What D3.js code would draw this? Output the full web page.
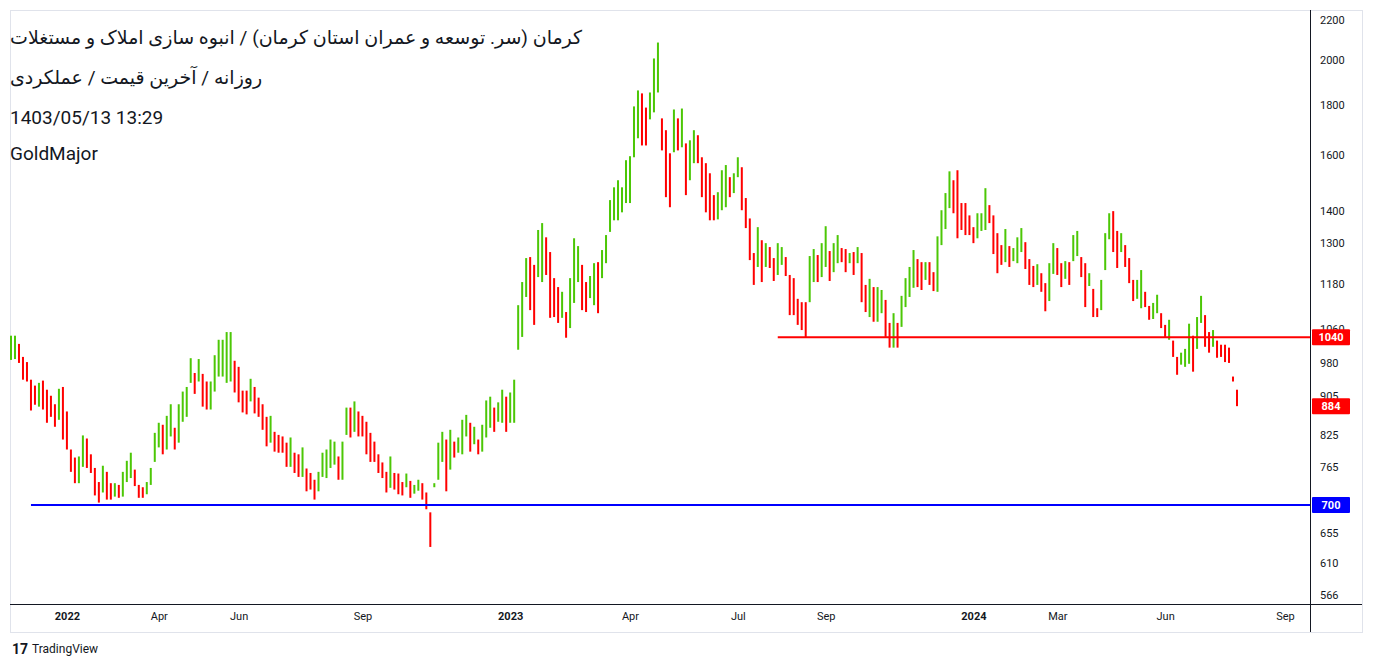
<!DOCTYPE html>
<html><head><meta charset="utf-8">
<script src="https://cdn.jsdelivr.net/npm/d3@7/dist/d3.min.js"></script>
<style>
body{margin:0;background:#fff;font-family:Roboto,"Noto Sans","DejaVu Sans",sans-serif;}
#wrap{position:relative;width:1373px;height:667px;}
.t{position:absolute;left:10px;font-size:19px;color:#131722;white-space:nowrap;line-height:24px;}
</style></head><body>
<div id="wrap"><svg id="c" width="1373" height="667"></svg></div>
<script>
const titleLines = ["کرمان (سر. توسعه و عمران استان کرمان) / انبوه سازی املاک و مستغلات","روزانه / آخرین قیمت / عملکردی","1403/05/13 13:29","GoldMajor"];
const yTicks = [2200,2000,1800,1600,1400,1300,1180,1060,980,905,825,765,700,655,610,566];
const xTickIdx = [14,37,57,88,125,155,182,204,241,262,289,319];
const xTickLabels = ["2022","Apr","Jun","Sep","2023","Apr","Jul","Sep","2024","Mar","Jun","Sep"];
const levels = [{v:1040,c:"#ff0000",from:192},{v:700,c:"#0000ff",from:5}];
const lastPrice = 884;
const highs = [1044,1044,1024,993,981,941,928,934,939,919,906,888,921,925,873,798,783,785,825,819,789,764,739,768,757,737,737,734,757,777,792,761,734,730,739,764,830,850,846,864,888,840,888,915,925,990,956,988,954,937,937,997,
1034,1034,1053,1053,984,970,917,917,943,925,902,888,862,864,832,826,823,811,821,792,789,802,763,755,743,757,792,798,817,813,785,813,881,881,894,873,864,852,830,813,789,774,757,785,755,754,739,754,741,734,743,737,
721,688,737,811,832,817,836,813,821,856,866,850,842,817,846,896,904,881,892,919,904,913,941,
1122,1185,1254,1257,1234,1340,1362,1317,1272,1196,1171,1158,1104,1196,1314,1290,1234,1185,1202,1239,1242,1278,1324,1438,1482,1507,1482,1580,1595,1794,1863,1850,1789,1854,2009,2086,1744,1696,1606,1781,1744,1785,1644,1656,1696,1676,1591,1569,1532,1455,1465,1543,1562,1518,1532,1591,1554,1445,1377,1269,1349,1308,1299,1287,1254,
1299,1287,1257,1205,1196,1139,1130,1130,1260,1281,1263,1299,1352,1275,1299,1324,1284,1281,1269,1272,1287,1269,1177,1194,1171,1171,1163,1136,1076,1101,1076,1147,1196,1228,1278,1251,1242,1242,1242,1213,1320,1404,1462,1539,1507,1543,1428,1428,1387,1349,1394,1394,1479,1421,1387,1330,1293,1343,1290,1284,
1317,1346,1302,1251,1231,1236,1210,1182,1239,1299,1284,1239,1245,1242,1324,1337,1257,1239,1210,1166,1114,1191,1330,1394,1401,1337,1330,1293,1254,1191,1191,1219,1158,1120,1128,1150,1101,1071,1084,1032,993,1003,1012,1074,1044,1091,1147,1096,1053,1058,1032,1022,1022,1015,948,919];
const lows = [986,988,979,941,937,875,887,883,877,850,862,842,856,817,798,757,737,737,766,764,755,716,704,721,709,709,714,712,714,739,746,732,712,712,718,734,775,802,789,798,823,798,811,852,862,934,910,937,883,877,877,915,
948,948,934,937,913,892,871,867,894,869,862,836,804,811,794,792,792,766,766,755,748,748,723,726,709,723,748,746,764,770,743,743,826,821,832,823,823,789,775,775,755,746,721,729,726,718,716,730,712,719,724,709,
693,634,730,743,775,723,761,783,792,789,823,794,808,789,794,821,840,832,852,850,832,850,850,
1010,1041,1144,1109,1071,1199,1185,1205,1089,1091,1076,1089,1039,1063,1128,1185,1109,1104,1141,1122,1101,1196,1239,1334,1371,1371,1397,1428,1428,1591,1664,1636,1636,1740,1769,1854,1617,1448,1414,1610,1617,1629,1455,1507,1569,1569,1448,1397,1371,1371,1374,1404,1414,1448,1462,1518,1404,1346,1248,1177,1228,1185,1228,1225,1188,
1205,1234,1202,1096,1096,1071,1058,1039,1130,1185,1185,1199,1228,1188,1213,1239,1242,1213,1239,1205,1239,1130,1104,1091,1079,1079,1101,1041,1015,1015,1015,1066,1117,1144,1169,1171,1163,1191,1177,1160,1158,1293,1343,1411,1394,1314,1340,1324,1324,1299,1314,1337,1340,1362,1266,1210,1234,1242,1228,1245,
1239,1272,1222,1177,1171,1177,1158,1106,1133,1208,1205,1171,1194,1177,1245,1260,1199,1117,1174,1091,1091,1109,1219,1311,1272,1225,1272,1228,1182,1133,1139,1114,1117,1084,1086,1101,1063,1041,1034,993,952,975,970,977,959,1012,1076,1017,1003,1017,991,993,981,979,937,884];

const svg = d3.select("#c");
const L=10,R=1310,T=10,B=604;
const x = d3.scaleLinear().domain([0,highs.length-1]).range([11,1237]);
const y = d3.scaleLog().domain([566,2200]).range([595,20]);

// frame
svg.append("rect").attr("x",10.5).attr("y",10.5).attr("width",1352).attr("height",622).attr("fill","none").attr("stroke","#e0e3eb");
svg.append("line").attr("x1",R+0.5).attr("x2",R+0.5).attr("y1",10).attr("y2",632).attr("stroke","#131722");
svg.append("line").attr("x1",10).attr("x2",1362).attr("y1",B+0.5).attr("y2",B+0.5).attr("stroke","#131722");

// y axis
const ya = svg.append("g").attr("transform",`translate(${R},0)`)
  .call(d3.axisRight(y).tickValues(yTicks).tickFormat(d3.format("d")).tickSize(0).tickPadding(10));
ya.select(".domain").remove();
ya.selectAll("text").attr("font-size",11).attr("fill","#131722").attr("font-family","Roboto,sans-serif");

// x axis
const xa = svg.append("g").attr("transform",`translate(0,${B})`)
  .call(d3.axisBottom(x).tickValues(xTickIdx).tickFormat((d,i)=>xTickLabels[i]).tickSize(0).tickPadding(8));
xa.select(".domain").remove();
xa.selectAll("text").attr("font-size",11).attr("fill","#131722").attr("font-family","Roboto,sans-serif")
  .attr("font-weight",(d,i)=>/^\d+$/.test(xTickLabels[i])?"bold":"normal");

// bars
const mids = highs.map((h,i)=>(h+lows[i])/2);
svg.append("g").selectAll("rect").data(highs).join("rect")
  .attr("x",(d,i)=>x(i)-1).attr("width",2)
  .attr("y",d=>y(d))
  .attr("height",(d,i)=>Math.max(1,y(lows[i])-y(d)))
  .attr("fill",(d,i)=> i>0 && mids[i]<mids[i-1] ? "#ff0000" : "#4cc706");

// levels
levels.forEach(l=>{
  svg.append("line").attr("x1",x(l.from)).attr("x2",R).attr("y1",y(l.v)).attr("y2",y(l.v))
    .attr("stroke",l.c).attr("stroke-width",2);
});
function tag(v,c){
  const g=svg.append("g").attr("transform",`translate(${R+2},${y(v)})`);
  g.append("rect").attr("x",0).attr("y",-8).attr("width",38).attr("height",16).attr("fill",c).attr("rx",1);
  g.append("text").attr("x",19).attr("y",4).attr("text-anchor","middle").attr("fill","#fff")
    .attr("font-size",11).attr("font-weight","bold").attr("font-family","Roboto,sans-serif").text(v);
}
levels.forEach(l=>tag(l.v,l.c));
tag(lastPrice,"#ff0000");

// titles
const tops=[26,66,106,142];
titleLines.forEach((s,i)=>{
  const d=d3.select("#wrap").append("div").attr("class","t").style("top",tops[i]+"px").text(s);
  if(i<2) d.attr("dir","rtl");
});
// footer
svg.append("text").attr("x",12).attr("y",654).attr("font-size",14).attr("font-weight","bold").attr("fill","#131722").text("17");
svg.append("text").attr("x",32).attr("y",653).attr("font-size",12).attr("fill","#131722").attr("font-family","Roboto,sans-serif").text("TradingView");
</script></body></html>
